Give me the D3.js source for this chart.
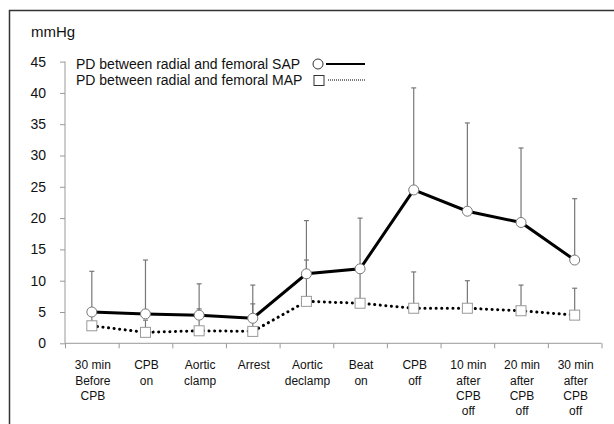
<!DOCTYPE html>
<html lang="en">
<head>
    <meta charset="UTF-8">
    <title>PD between radial and femoral pressure</title>
    <script src="https://d3js.org/d3.v7.min.js"></script>
    <style>
        body { margin: 0; background: #fff; font-family: "Liberation Sans", Arial, sans-serif; }
        svg { display: block; }
        .axis path, .axis line { stroke: #999; }
        .axis text { font-size: 14px; fill: #111; }
        .cat-label { font-size: 12px; fill: #111; }
        .legend text { font-size: 14px; fill: #111; }
    </style>
</head>
<body>
<svg width="614" height="424"></svg>
<script>
    // 数据
    const categories = [
        ["30 min", "Before", "CPB"], ["CPB", "on"], ["Aortic", "clamp"], ["Arrest"],
        ["Aortic", "declamp"], ["Beat", "on"], ["CPB", "off"],
        ["10 min", "after", "CPB", "off"], ["20 min", "after", "CPB", "off"], ["30 min", "after", "CPB", "off"]
    ];
    const sapMean = [5.0, 4.7, 4.5, 4.0, 11.1, 11.9, 24.5, 21.1, 19.3, 13.3];
    const sapTop  = [11.5, 13.3, 9.5, 9.3, 19.6, 20.0, 40.8, 35.2, 31.2, 23.1];
    const mapMean = [2.8, 1.75, 2.0, 1.9, 6.7, 6.4, 5.6, 5.6, 5.2, 4.5];
    const mapTop  = [4.6, 3.7, 5.5, 6.3, 13.3, 11.5, 11.4, 10.0, 9.3, 8.8];
    const yTicks = [0, 5, 10, 15, 20, 25, 30, 35, 40, 45];

    const svg = d3.select("svg");
    const margin = { left: 65, right: 12.5, top: 61.6, bottom: 80.7 };
    const width = 614, height = 424;

    // 外框
    svg.append("path")
        .attr("d", "M9.5,424 V10.5 H614")
        .attr("fill", "none").attr("stroke", "#333").attr("stroke-width", 1.5);

    const idx = d3.range(categories.length);
    const x = d3.scaleBand().domain(idx).range([margin.left, width - margin.right]);
    const y = d3.scaleLinear().domain([0, 45]).range([height - margin.bottom, margin.top]);
    const cx = i => x(i) + x.bandwidth() / 2;

    // y 轴
    const yAxis = svg.append("g").attr("class", "axis")
        .attr("transform", `translate(${margin.left},0)`)
        .call(d3.axisLeft(y).tickValues(yTicks).tickSize(5).tickSizeOuter(0).tickPadding(14));
    yAxis.select(".domain").attr("d", `M0,${y(0)}V${y(45)}`);

    // x 轴 (ticks at category boundaries)
    const xb = d3.scaleLinear().domain([0, categories.length]).range([margin.left, width - margin.right]);
    svg.append("g").attr("class", "axis")
        .attr("transform", `translate(0,${y(0)})`)
        .call(d3.axisBottom(xb).tickValues(d3.range(0, categories.length + 1)).tickSize(5).tickFormat(""))
        .select(".domain").attr("d", `M${margin.left},0H${width - margin.right}`);

    // 类别标签
    const lab = svg.append("g");
    categories.forEach((lines, i) => {
        const t = lab.append("text").attr("class", "cat-label")
            .attr("text-anchor", "middle").attr("x", cx(i) + 1).attr("y", y(0) + 26);
        lines.forEach((s, k) => t.append("tspan").attr("x", cx(i) + 1).attr("dy", k ? 15.2 : 0).text(s));
    });

    // mmHg
    svg.append("text").attr("x", 31).attr("y", 37).attr("font-size", 15).attr("fill", "#111").text("mmHg");

    // 误差线
    function errBars(mean, top) {
        const g = svg.append("g").attr("stroke", "#777").attr("stroke-width", 1.2);
        idx.forEach(i => {
            g.append("line").attr("x1", cx(i)).attr("x2", cx(i)).attr("y1", y(mean[i])).attr("y2", y(top[i]));
            g.append("line").attr("x1", cx(i) - 2.5).attr("x2", cx(i) + 2.5).attr("y1", y(top[i])).attr("y2", y(top[i]));
        });
    }
    errBars(mapMean, mapTop);
    errBars(sapMean, sapTop);

    const line = d3.line().x((d, i) => cx(i)).y(d => y(d));

    svg.append("path").datum(mapMean).attr("d", line)
        .attr("fill", "none").attr("stroke", "#000").attr("stroke-width", 3)
        .attr("stroke-dasharray", "0.1 5.5").attr("stroke-linecap", "round");
    svg.append("path").datum(sapMean).attr("d", line)
        .attr("fill", "none").attr("stroke", "#000").attr("stroke-width", 3);

    // 标记
    svg.append("g").selectAll("rect").data(mapMean).join("rect")
        .attr("x", (d, i) => cx(i) - 5).attr("y", d => y(d) - 5)
        .attr("width", 10).attr("height", 10)
        .attr("fill", "#fff").attr("stroke", "#999").attr("stroke-width", 1);
    svg.append("g").selectAll("circle").data(sapMean).join("circle")
        .attr("cx", (d, i) => cx(i)).attr("cy", d => y(d)).attr("r", 5)
        .attr("fill", "#fff").attr("stroke", "#777").attr("stroke-width", 1);

    // 图例
    const lg = svg.append("g").attr("class", "legend");
    lg.append("text").attr("x", 76).attr("y", 69).text("PD between radial and femoral SAP");
    lg.append("text").attr("x", 76).attr("y", 85).text("PD between radial and femoral MAP");
    lg.append("circle").attr("cx", 318).attr("cy", 64).attr("r", 5)
        .attr("fill", "#fff").attr("stroke", "#333");
    lg.append("line").attr("x1", 326).attr("x2", 365).attr("y1", 64).attr("y2", 64)
        .attr("stroke", "#000").attr("stroke-width", 2);
    lg.append("rect").attr("x", 314).attr("y", 75.5).attr("width", 10).attr("height", 10)
        .attr("fill", "#fff").attr("stroke", "#333");
    lg.append("line").attr("x1", 328).attr("x2", 365).attr("y1", 80).attr("y2", 80)
        .attr("stroke", "#000").attr("stroke-width", 1.2).attr("stroke-dasharray", "1 1");
</script>
</body>
</html>
